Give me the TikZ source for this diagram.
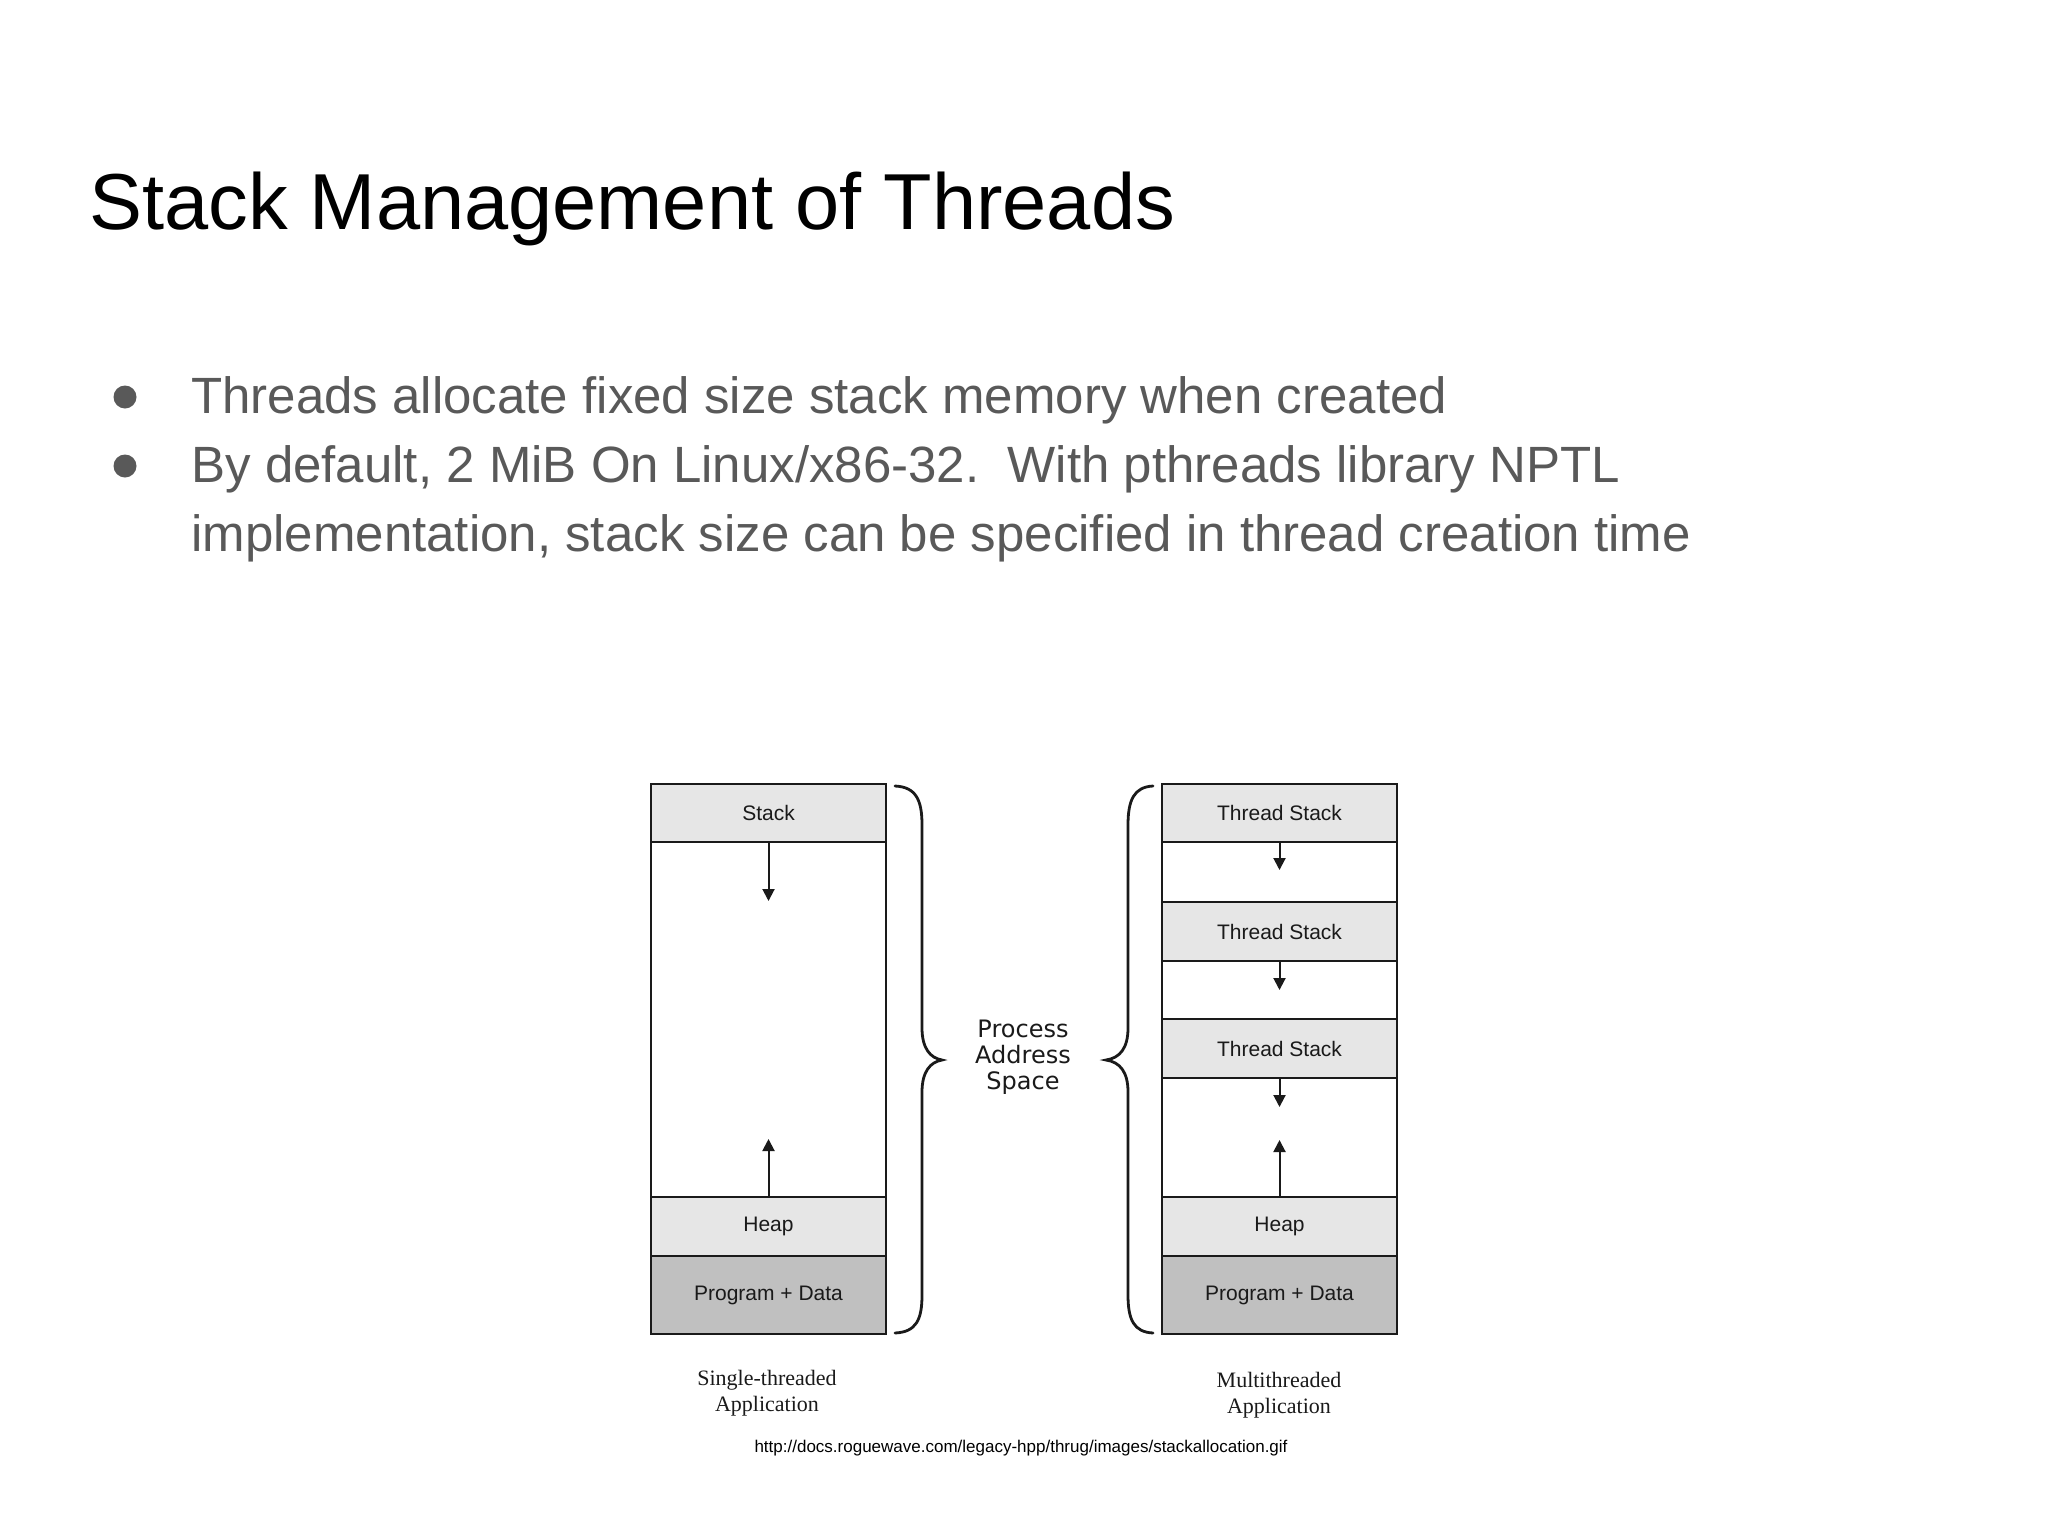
\documentclass[tikz,border=0pt]{standalone}
\usepackage{fontspec}
\setmainfont{Liberation Sans}
\newfontfamily\serifdiag{Liberation Serif}
\newfontfamily\verd{DejaVu Sans}
\usetikzlibrary{arrows.meta}
\definecolor{bodygray}{HTML}{595959}
\definecolor{lightfill}{HTML}{E6E6E6}
\definecolor{darkfill}{HTML}{C0C0C0}
\definecolor{ink}{HTML}{1A1A1A}
\begin{document}
\begin{tikzpicture}[x=0.5pt,y=-0.5pt,
  seg/.style={draw=ink, line width=1pt, inner sep=0pt, outer sep=0pt, minimum width=117.5pt, font=\fontsize{10.5}{12}\selectfont, text=ink},
  light/.style={seg, fill=lightfill},
  dark/.style={seg, fill=darkfill},
  colframe/.style={draw=ink, line width=1pt, inner sep=0pt, outer sep=0pt, minimum width=117.5pt, minimum height=275pt},
  growarrow/.style={draw=ink, line width=1pt, -{Triangle[width=6pt,length=6pt]}},
  brace/.style={draw=ink, line width=1.4pt, line cap=round},
  bodytext/.style={anchor=base west, inner sep=0pt, text=bodygray, font=\fontsize{25.5}{30}\selectfont},
  bulletdot/.style={circle, fill=bodygray, inner sep=0pt, minimum size=11.5pt},
  caption/.style={font=\serifdiag\fontsize{11}{13}\selectfont, align=center, text=ink, inner sep=0pt}
]
\useasboundingbox (0,0) rectangle (2048,1536);
\fill[white] (0,0) rectangle (2048,1536);

% title
\node[anchor=base west, inner sep=0pt, font=\fontsize{39.7}{44}\selectfont] (title) at (89,229) {Stack Management of Threads};

% bullets
\node[bulletdot] (d1) at (125,397) {};
\node[bulletdot] (d2) at (125,466) {};
\node[bodytext] (b1) at (191,413) {Threads allocate fixed size stack memory when created};
\node[bodytext] (b2) at (191,482) {By default, 2 MiB On Linux/x86-32.\ \ With pthreads library NPTL};
\node[bodytext] (b3) at (191,551) {implementation, stack size can be specified in thread creation time};

% left column
\node[colframe] (lcol) at (768.5,1059) {};
\node[light, minimum height=29pt] (lstack) at (768.5,813) {Stack};
\node[light, minimum height=29.5pt] (lheap) at (768.5,1226.5) {Heap};
\node[dark, minimum height=39pt] (lprog) at (768.5,1295) {Program + Data};
\coordinate (la1) at (768.5,901);
\coordinate (la2) at (768.5,1139);
\draw[growarrow] (lstack.south) -- (la1);
\draw[growarrow] (lheap.north) -- (la2);

% right column
\node[colframe] (rcol) at (1279.5,1059) {};
\node[light, minimum height=29pt] (ts1) at (1279.5,813) {Thread Stack};
\node[light, minimum height=29.5pt] (ts2) at (1279.5,931.5) {Thread Stack};
\node[light, minimum height=29.5pt] (ts3) at (1279.5,1048.5) {Thread Stack};
\node[light, minimum height=29.5pt] (rheap) at (1279.5,1226.5) {Heap};
\node[dark, minimum height=39pt] (rprog) at (1279.5,1295) {Program + Data};
\coordinate (ra1) at (1279.5,870);
\coordinate (ra2) at (1279.5,990);
\coordinate (ra3) at (1279.5,1107);
\coordinate (ra4) at (1279.5,1140);
\draw[growarrow] (ts1.south) -- (ra1);
\draw[growarrow] (ts2.south) -- (ra2);
\draw[growarrow] (ts3.south) -- (ra3);
\draw[growarrow] (rheap.north) -- (ra4);

% braces
\draw[brace] (895,786) .. controls (916,787) and (922,800) .. (922,825) -- (922,1028)
  .. controls (922,1048) and (930,1058) .. (942,1060)
  .. controls (930,1062) and (922,1072) .. (922,1092) -- (922,1295)
  .. controls (922,1320) and (916,1332) .. (895,1333);
\draw[brace] (1153,786) .. controls (1134,787) and (1128,800) .. (1128,825) -- (1128,1028)
  .. controls (1128,1048) and (1120,1058) .. (1106,1060)
  .. controls (1120,1062) and (1128,1072) .. (1128,1092) -- (1128,1295)
  .. controls (1128,1320) and (1134,1332) .. (1153,1333);

\node[font=\verd\fontsize{12}{13}\selectfont, align=center, text=ink, inner sep=0pt] (pas) at (1023,1057) {Process\\Address\\Space};

% captions
\node[caption] (lcap) at (767,1393) {Single-threaded\\Application};
\node[caption] (rcap) at (1279,1395) {Multithreaded\\Application};
\node[anchor=base, inner sep=0pt, font=\fontsize{8.5}{10}\selectfont] (url) at (1021,1452) {http://docs.roguewave.com/legacy-hpp/thrug/images/stackallocation.gif};
\end{tikzpicture}
\end{document}
